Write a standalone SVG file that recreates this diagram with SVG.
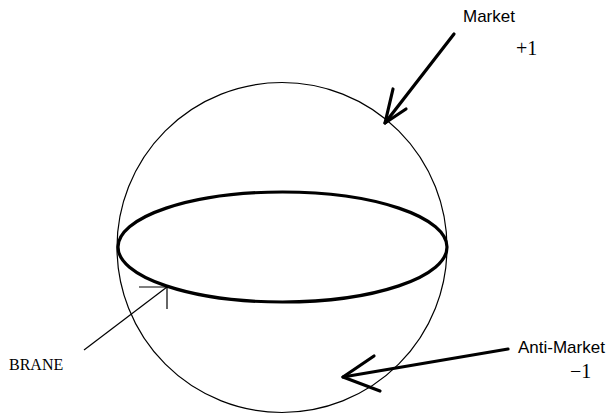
<svg xmlns="http://www.w3.org/2000/svg" width="608" height="414" viewBox="0 0 608 414">
<style>
.sans{font-family:"Liberation Sans",Arial,sans-serif;font-size:17px;fill:#000}
.num{font-family:"Liberation Serif","Times New Roman",serif;font-size:20px;fill:#000}
.lbl{font-family:"Liberation Serif","Times New Roman",serif;font-size:16px;fill:#000}
.thin{fill:none;stroke:#000;stroke-width:1.2}
.thick{fill:none;stroke:#000;stroke-width:3.2;stroke-linecap:round;stroke-linejoin:round}
</style>
<rect width="608" height="414" fill="#fff"/>
<g id="sphere">
<circle cx="282" cy="247.5" r="165" class="thin"/>
</g>
<g id="brane-ellipse">
<ellipse cx="282.5" cy="247" rx="164.5" ry="55" class="thick"/>
</g>
<g id="connectors">
<path d="M454 34 L385 123" class="thick"/>
<path d="M393 89 L385 123 L406 109" class="thick"/>
<path d="M508 349 L343 377" class="thick"/>
<path d="M374 356 L343 377 L380 391" class="thick"/>
<path d="M84 350 L167 287" class="thin"/>
<path d="M139 287 L167 287 L167 309" class="thin"/>
</g>
<g id="market">
<text x="463" y="22" class="sans">Market</text>
<text x="516" y="55" class="num">+1</text>
</g>
<g id="anti-market">
<text x="518" y="353" class="sans">Anti-Market</text>
<text x="570" y="378" class="num">−1</text>
</g>
<g id="brane">
<text x="9" y="370" class="lbl">BRANE</text>
</g>
</svg>
